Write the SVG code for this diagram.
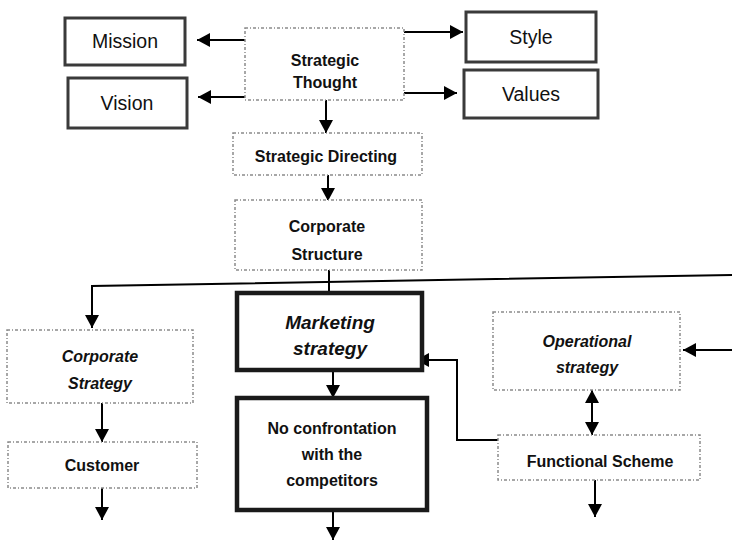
<svg xmlns="http://www.w3.org/2000/svg" width="732" height="542" viewBox="0 0 732 542">
<style>
.solid{fill:#fff;stroke:#3a3a3a;stroke-width:3}
.dash{fill:#fff;stroke:#8a8a8a;stroke-width:1.5;stroke-dasharray:3 2 1 2}
.thick{fill:#fff;stroke:#1a1a1a;stroke-width:4.5}
.c{stroke:#000;stroke-width:2;fill:none}
text{font-family:"Liberation Sans",Arial,sans-serif;text-anchor:middle;fill:#111}
.r{font-size:19.5px}
.b{font-size:16px;font-weight:bold}
.bi{font-size:16px;font-weight:bold;font-style:italic}
.bi2{font-size:19px;font-weight:bold;font-style:italic}
</style>
<defs>
<marker id="ah" markerUnits="userSpaceOnUse" markerWidth="16" markerHeight="16" refX="13" refY="7" orient="auto">
<path d="M0,0 L13,7 L0,14 Z" fill="#000"/>
</marker>
<marker id="as" markerUnits="userSpaceOnUse" markerWidth="16" markerHeight="16" refX="0" refY="7" orient="auto">
<path d="M13,0 L0,7 L13,14 Z" fill="#000"/>
</marker>
</defs>
<rect width="732" height="542" fill="#fff"/>

<g id="connectors">
<line class="c" x1="245" y1="40" x2="197" y2="40" marker-end="url(#ah)"/>
<line class="c" x1="245" y1="97" x2="198" y2="97" marker-end="url(#ah)"/>
<line class="c" x1="404" y1="32" x2="463" y2="32" marker-end="url(#ah)"/>
<line class="c" x1="404" y1="93" x2="457" y2="93" marker-end="url(#ah)"/>
<line class="c" x1="326" y1="100" x2="326" y2="133" marker-end="url(#ah)"/>
<line class="c" x1="328" y1="175" x2="328" y2="201" marker-end="url(#ah)"/>
<line class="c" x1="329" y1="270" x2="329" y2="293"/>
<polyline class="c" points="92,328 92,286 732,275" marker-start="url(#as)"/>
<line class="c" x1="102" y1="403" x2="102" y2="442" marker-end="url(#ah)"/>
<line class="c" x1="102" y1="488" x2="102" y2="520" marker-end="url(#ah)"/>
<line class="c" x1="333" y1="370" x2="333" y2="398" marker-end="url(#ah)"/>
<line class="c" x1="333" y1="510" x2="333" y2="540" marker-end="url(#ah)"/>
<line class="c" x1="732" y1="350" x2="683" y2="350" marker-end="url(#ah)"/>
<line class="c" x1="592" y1="390" x2="592" y2="435" marker-start="url(#as)" marker-end="url(#ah)"/>
<line class="c" x1="595" y1="480" x2="595" y2="517" marker-end="url(#ah)"/>
<polyline class="c" points="500,440 457,440 457,360 416,360" marker-end="url(#ah)"/>
</g>

<g id="mission"><rect class="solid" x="65" y="18" width="120" height="47"/><text class="r" x="125" y="48">Mission</text></g>
<g id="vision"><rect class="solid" x="68" y="78" width="119" height="50"/><text class="r" x="127" y="110">Vision</text></g>
<g id="strategic-thought"><rect class="dash" x="245" y="28" width="159" height="72"/><text class="b" x="325" y="66">Strategic</text><text class="b" x="325" y="88">Thought</text></g>
<g id="style"><rect class="solid" x="466" y="12" width="130" height="50"/><text class="r" x="531" y="44">Style</text></g>
<g id="values"><rect class="solid" x="464" y="70" width="134" height="48"/><text class="r" x="531" y="101">Values</text></g>
<g id="strategic-directing"><rect class="dash" x="233" y="133" width="189" height="42"/><text class="b" x="326" y="162">Strategic Directing</text></g>
<g id="corporate-structure"><rect class="dash" x="235" y="200" width="187" height="70"/><text class="b" x="327" y="232">Corporate</text><text class="b" x="327" y="260">Structure</text></g>
<g id="corporate-strategy"><rect class="dash" x="7" y="330" width="186" height="73"/><text class="bi" x="100" y="362">Corporate</text><text class="bi" x="100" y="389">Strategy</text></g>
<g id="customer"><rect class="dash" x="8" y="442" width="189" height="46"/><text class="b" x="102" y="471">Customer</text></g>
<g id="marketing-strategy"><rect class="thick" x="237" y="293" width="185" height="77"/><text class="bi2" x="330" y="329">Marketing</text><text class="bi2" x="330" y="355">strategy</text></g>
<g id="no-confrontation"><rect class="thick" x="237" y="398" width="190" height="112"/><text class="b" x="332" y="434">No confrontation</text><text class="b" x="332" y="460">with the</text><text class="b" x="332" y="486">competitors</text></g>
<g id="operational-strategy"><rect class="dash" x="493" y="312" width="187" height="78"/><text class="bi" x="587" y="347">Operational</text><text class="bi" x="587" y="373">strategy</text></g>
<g id="functional-scheme"><rect class="dash" x="498" y="435" width="202" height="45"/><text class="b" x="600" y="467">Functional Scheme</text></g>
</svg>
